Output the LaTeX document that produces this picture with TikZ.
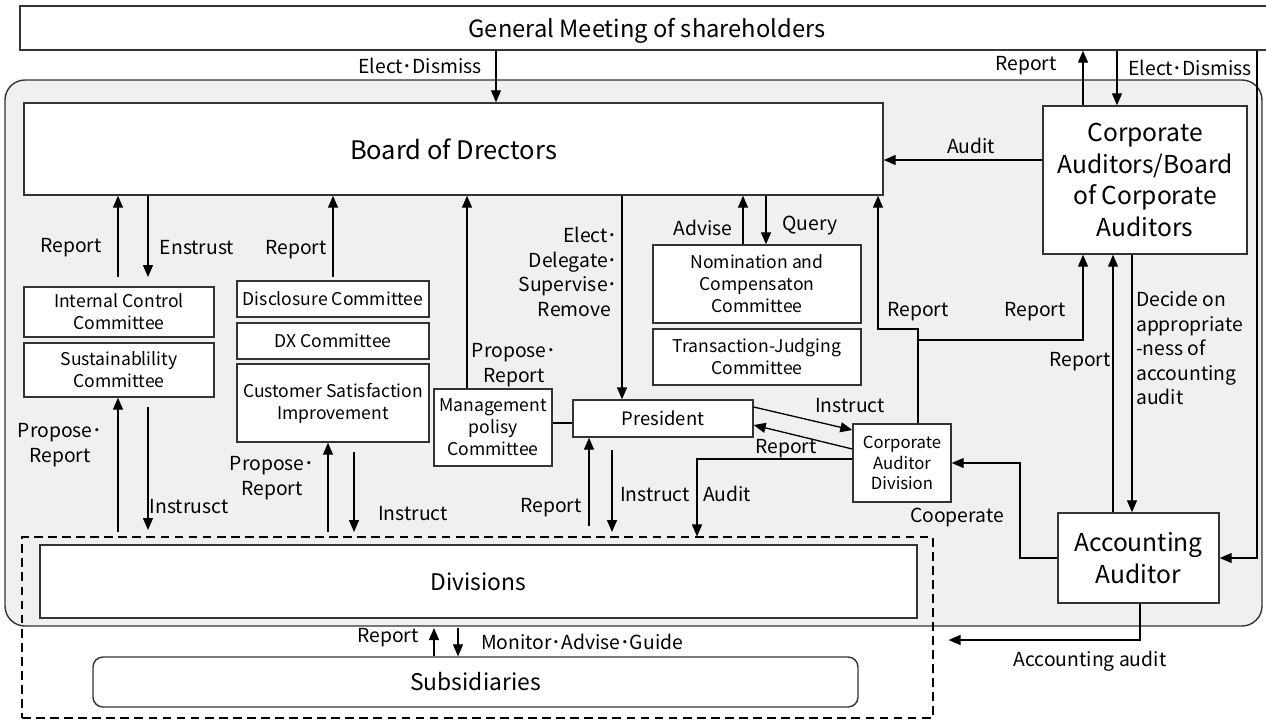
\documentclass[tikz,border=0pt]{standalone}
\usepackage{fontspec}
\setmainfont{Noto Sans CJK JP}
\usetikzlibrary{arrows.meta,positioning}
\definecolor{orgFill}{HTML}{F0F0F0}
\definecolor{orgLine}{HTML}{333333}
\tikzset{
  unitbox/.style={draw=orgLine, fill=white, line width=0.8pt, inner sep=1pt, align=center,
    font=\fontsize{10.5}{13}\selectfont},
  bigbox/.style={unitbox, font=\fontsize{13}{16}\selectfont},
  smallbox/.style={unitbox, font=\fontsize{10}{12.5}\selectfont},
  lbl/.style={font=\fontsize{11}{14}\selectfont, inner sep=1pt, align=center},
  arr/.style={-{Triangle[length=2.4mm,width=2mm]}, line width=0.75pt},
  conn/.style={line width=0.75pt},
  orgframe/.style={draw=orgLine, fill=orgFill, line width=0.8pt, rounded corners=4mm},
  grpframe/.style={draw=black, line width=0.6pt, dash pattern=on 5pt off 3pt}
}
\begin{document}
\begin{tikzpicture}[x=0.2mm, y=-0.2mm]
  \useasboundingbox (0,0) rectangle (1266,722);

  % shareholders on top, the company frame below
  \node[bigbox, minimum width=249.6mm, minimum height=8.8mm] (gm) at (644,28) {};
  \node[font=\fontsize{13.5}{16}\selectfont] (gmtext) at (647,31) {General Meeting of shareholders};
  \draw[orgframe] (5,80) rectangle (1262,626);
  \node[grpframe, minimum width=182.2mm, minimum height=36.2mm] (grp) at (477.5,627.5) {};

  % boxes
  \node[bigbox, minimum width=171.8mm, minimum height=18.4mm, font=\fontsize{14.5}{18}\selectfont] (board) at (453.5,149) {Board of Drectors};
  \node[bigbox, minimum width=40.8mm, minimum height=29.6mm, font=\fontsize{14}{18}\selectfont] (ca) at (1145,180)
    {Corporate\\Auditors/Board\\of Corporate\\Auditors};
  \node[bigbox, minimum width=32.2mm, minimum height=18mm, font=\fontsize{14}{18}\selectfont] (acc) at (1138.5,558)
    {Accounting\\Auditor};
  \node[smallbox, minimum width=19.6mm, minimum height=15.6mm, font=\fontsize{9.5}{11.5}\selectfont] (cad) at (902,463) {Corporate\\Auditor\\Division};
  \node[smallbox, minimum width=41.6mm, minimum height=15.6mm] (ncc) at (757,284) {Nomination and\\Compensaton\\Committee};
  \node[smallbox, minimum width=41.6mm, minimum height=11.2mm] (tjc) at (757,357) {Transaction-Judging\\Committee};
  \node[unitbox, minimum width=36mm, minimum height=7.4mm] (pres) at (663,418.5) {President};
  \node[smallbox, minimum width=23.6mm, minimum height=15.4mm] (mpc) at (493,427.5) {Management\\polisy\\Committee};
  \node[smallbox, minimum width=38mm, minimum height=10mm] (icc) at (119,312) {Internal Control\\Committee};
  \node[smallbox, minimum width=38mm, minimum height=10.8mm] (sus) at (119,370) {Sustainablility\\Committee};
  \node[smallbox, minimum width=38.4mm, minimum height=7.2mm] (dc) at (333,299) {Disclosure Committee};
  \node[smallbox, minimum width=38.4mm, minimum height=7.2mm] (dx) at (333,341) {DX Committee};
  \node[smallbox, minimum width=38.4mm, minimum height=15.6mm] (csi) at (333,403) {Customer Satisfaction\\Improvement};
  \node[bigbox, minimum width=175.4mm, minimum height=14.6mm] (div) at (478.5,581.5) {Divisions};
  \node[bigbox, minimum width=153mm, minimum height=10mm, rounded corners=2mm] (sub) at (475.5,682) {Subsidiaries};

  % shareholders <-> board and auditors
  \draw[arr] (496,0 |- gm.south) -- (496,0 |- board.north);
  \node[lbl] (l-gmb) at (420,66) {Elect･Dismiss};
  \draw[arr] (1083,0 |- ca.north) -- (1083,0 |- gm.south);
  \node[lbl] (l-car) at (1026,66) {Report};
  \draw[arr] (1117,0 |- gm.south) -- (1117,0 |- ca.north);
  \node[lbl] (l-gmc) at (1190,68) {Elect･Dismiss};
  \draw[arr] (1257,0 |- gm.south) -- (1257,0 |- acc.east) -- (acc.east);

  % auditors
  \draw[arr] (ca.west |- 0,160) -- (board.east |- 0,160);
  \node[lbl] (l-aud) at (971,146) {Audit};
  \draw[arr] (1132,0 |- ca.south) -- (1132,0 |- acc.north);
  \draw[arr] (1113,0 |- acc.north) -- (1113,0 |- ca.south);
  \node[lbl] (l-accr) at (1080,362) {Report};
  \node[lbl, align=left, anchor=north west] (l-dec) at (1134,289)
    {Decide on\\appropriate\\-ness of\\accounting\\audit};
  \draw[arr] (1140,0 |- acc.south) -- (1140,640) -- ([xshift=3mm]grp.east |- 0,640);
  \node[lbl] (l-acca) at (1090,661) {Accounting audit};
  \draw[arr] (acc.west) -- (1020,0 |- acc.west) |- (cad.east);
  \node[lbl] (l-coop) at (957,517) {Cooperate};

  % corporate auditor division
  \draw[arr] (918,0 |- cad.north) -- (918,329) -- (878,329) -- (878,0 |- board.south);
  \draw[arr] (918,340) -- (1083,340) -- (1083,0 |- ca.south);
  \node[lbl] (l-cadr1) at (918,312) {Report};
  \node[lbl] (l-cadr2) at (1035,312) {Report};
  \draw[arr] (pres.east |- 0,407) -- (cad.west |- 0,430);
  \node[lbl] (l-pins) at (850,406) {Instruct};
  \draw[arr] (cad.west |- 0,449) -- (pres.east |- 0,425);
  \node[lbl] (l-prep) at (786,449) {Report};
  \draw[arr] (cad.west |- 0,459) -- (697,459) -- (697,0 |- grp.north);
  \node[lbl] (l-cada) at (727,494) {Audit};

  % board <-> committees and president
  \draw[arr] (743,0 |- ncc.north) -- (743,0 |- board.south);
  \node[lbl] (l-adv) at (703,228) {Advise};
  \draw[arr] (766,0 |- board.south) -- (766,0 |- ncc.north);
  \node[lbl] (l-qry) at (810,226) {Query};
  \draw[arr] (622,0 |- board.south) -- (622,0 |- pres.north);
  \node[lbl, align=right] (l-elect) at (568,272) {Elect･\\Delegate･\\Supervise･\\Remove\,\,};
  \draw[arr] (467,0 |- mpc.north) -- (467,0 |- board.south);
  \node[lbl] (l-mpcr) at (514,365) {Propose･\\Report};
  \draw[conn] (mpc.east |- 0,423) -- (pres.west |- 0,423);

  % left and middle committees
  \draw[arr] (118,277) -- (118,0 |- board.south);
  \node[lbl] (l-iccr) at (71,248) {Report};
  \draw[arr] (148,0 |- board.south) -- (148,277);
  \node[lbl] (l-ent) at (197,248) {Enstrust};
  \draw[arr] (333,277) -- (333,0 |- board.south);
  \node[lbl] (l-dcr) at (296,250) {Report};

  % committees and president -> divisions
  \draw[arr] (118,532) -- (118,0 |- sus.south);
  \node[lbl] (l-susp) at (60,445) {Propose･\\Report};
  \draw[arr] (148,407) -- (148,530);
  \node[lbl] (l-susi) at (189,507) {Instrusct};
  \draw[arr] (328,532) -- (328,0 |- csi.south);
  \node[lbl] (l-csip) at (272,478) {Propose･\\Report};
  \draw[arr] (354,452) -- (354,532);
  \node[lbl] (l-csii) at (413,514) {Instruct};
  \draw[arr] (589,526) -- (589,0 |- pres.south);
  \node[lbl] (l-divr) at (551,508) {Report};
  \draw[arr] (612,450) -- (612,532);
  \node[lbl] (l-divi) at (655,495) {Instruct};

  % divisions <-> subsidiaries
  \draw[arr] (434,0 |- sub.north) -- (434,628);
  \node[lbl] (l-subr) at (388,638) {Report};
  \draw[arr] (458,628) -- (458,0 |- sub.north);
  \node[lbl] (l-subm) at (582,642) {Monitor･Advise･Guide};
\end{tikzpicture}
\end{document}
